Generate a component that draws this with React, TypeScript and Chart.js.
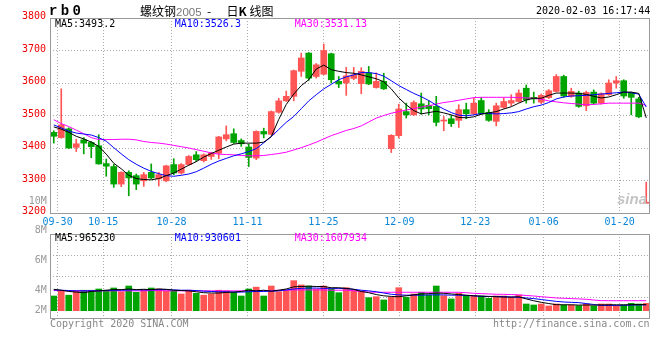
import React, { useEffect, useRef } from 'react';
import { Chart, registerables } from 'chart.js';

Chart.register(...registerables);

// ---------------- data ----------------
const DATES = [
  '09-27', '09-30',
  '10-08', '10-09', '10-10', '10-11', '10-14', '10-15', '10-16', '10-17', '10-18', '10-21', '10-22', '10-23', '10-24', '10-25', '10-28', '10-29', '10-30', '10-31',
  '11-01', '11-04', '11-05', '11-06', '11-07', '11-08', '11-11', '11-12', '11-13', '11-14', '11-15', '11-18', '11-19', '11-20', '11-21', '11-22', '11-25', '11-26', '11-27', '11-28', '11-29',
  '12-02', '12-03', '12-04', '12-05', '12-06', '12-09', '12-10', '12-11', '12-12', '12-13', '12-16', '12-17', '12-18', '12-19', '12-20', '12-23', '12-24', '12-25', '12-26', '12-27', '12-30', '12-31',
  '01-02', '01-03', '01-06', '01-07', '01-08', '01-09', '01-10', '01-13', '01-14', '01-15', '01-16', '01-17', '01-20', '01-21', '01-22', '01-23',
  '02-03',
];

const TICK_DATES = ['09-30', '10-15', '10-28', '11-11', '11-25', '12-09', '12-23', '01-06', '01-20'];

const OPEN = [
  3448, 3432, 3459, 3402, 3425, 3417, 3407, 3352, 3343, 3289,
  3325, 3315, 3299, 3325, 3305, 3299, 3349, 3323, 3349, 3379,
  3361, 3374, 3384, 3428, 3444, 3423, 3403, 3369, 3451, 3442,
  3510, 3545, 3559, 3636, 3692, 3620, 3627, 3690, 3605, 3600,
  3614, 3598, 3631, 3586, 3605, 3398, 3438, 3512, 3502, 3536,
  3531, 3528, 3483, 3490, 3485, 3518, 3505, 3546, 3510, 3482,
  3525, 3538, 3543, 3584, 3556, 3541, 3555, 3574, 3620, 3559,
  3569, 3530, 3572, 3538, 3564, 3600, 3607, 3569, 3551, 3230,
];
const HIGH = [
  3453, 3582, 3462, 3427, 3432, 3420, 3441, 3366, 3350, 3327,
  3330, 3320, 3325, 3351, 3325, 3347, 3367, 3352, 3377, 3389,
  3382, 3387, 3436, 3468, 3459, 3428, 3412, 3453, 3461, 3514,
  3553, 3575, 3640, 3692, 3694, 3660, 3720, 3692, 3620, 3648,
  3648, 3647, 3651, 3631, 3630, 3441, 3535, 3538, 3545, 3569,
  3545, 3559, 3497, 3500, 3533, 3538, 3554, 3555, 3518, 3538,
  3555, 3564, 3579, 3594, 3572, 3566, 3580, 3626, 3624, 3584,
  3575, 3575, 3579, 3570, 3610, 3620, 3610, 3572, 3556, 3295,
];
const LOW = [
  3415, 3430, 3398, 3389, 3382, 3370, 3350, 3313, 3279, 3281,
  3253, 3272, 3282, 3305, 3283, 3296, 3318, 3320, 3347, 3358,
  3357, 3365, 3367, 3422, 3414, 3405, 3343, 3364, 3431, 3440,
  3507, 3543, 3545, 3620, 3608, 3615, 3625, 3600, 3586, 3562,
  3610, 3567, 3595, 3584, 3580, 3386, 3431, 3492, 3500, 3504,
  3502, 3468, 3453, 3466, 3463, 3490, 3503, 3503, 3482, 3468,
  3522, 3530, 3541, 3538, 3538, 3536, 3552, 3572, 3556, 3556,
  3525, 3515, 3535, 3535, 3562, 3584, 3553, 3502, 3493, 3229,
];
const CLOSE = [
  3436, 3471, 3400, 3413, 3415, 3404, 3351, 3344, 3289, 3325,
  3308, 3289, 3318, 3308, 3318, 3345, 3323, 3349, 3374, 3364,
  3379, 3384, 3434, 3441, 3417, 3413, 3371, 3451, 3443, 3512,
  3545, 3559, 3638, 3677, 3615, 3656, 3700, 3610, 3597, 3622,
  3625, 3636, 3597, 3605, 3582, 3439, 3520, 3502, 3540, 3520,
  3521, 3479, 3485, 3475, 3518, 3505, 3538, 3505, 3485, 3530,
  3543, 3546, 3569, 3548, 3551, 3562, 3576, 3620, 3560, 3574,
  3528, 3571, 3538, 3567, 3600, 3607, 3560, 3556, 3496, 3231,
];

const MA5 = [
  3465, 3458, 3448, 3436, 3428, 3418, 3405, 3381, 3353, 3336,
  3316, 3306, 3303, 3302, 3306, 3315, 3323, 3335, 3347, 3358,
  3372, 3383, 3393, 3403, 3412, 3415, 3415, 3415, 3418, 3435,
  3488, 3534, 3566, 3592, 3610, 3643, 3655, 3641, 3636, 3632,
  3630, 3625, 3619, 3613, 3604, 3582, 3554, 3533, 3515, 3505,
  3509, 3513, 3508, 3502, 3494, 3493, 3496, 3504, 3508, 3512,
  3520, 3527, 3538, 3548, 3553, 3553, 3562, 3569, 3569, 3569,
  3568, 3565, 3559, 3554, 3557, 3564, 3572, 3572, 3568, 3493,
];
const MA10 = [
  3471, 3462, 3452, 3446, 3443, 3440, 3432, 3421, 3401, 3382,
  3364, 3350, 3338, 3328, 3321, 3315, 3313, 3316, 3320, 3327,
  3338, 3350, 3360, 3368, 3376, 3382, 3389, 3398, 3416, 3435,
  3457, 3479, 3497, 3521, 3545, 3564, 3582, 3596, 3610, 3619,
  3625, 3632, 3632, 3629, 3621, 3607, 3592, 3580, 3568, 3558,
  3546, 3532, 3520, 3509, 3501, 3499, 3502, 3506, 3506, 3505,
  3506, 3508, 3512, 3520, 3527, 3532, 3540, 3551, 3557, 3560,
  3561, 3562, 3564, 3566, 3568, 3570, 3572, 3570, 3566, 3526,
];
const MA30 = [
  3487, 3475, 3466, 3455, 3444, 3432, 3426, 3426, 3426, 3427,
  3427, 3425, 3420, 3417, 3415, 3412, 3408, 3404, 3400, 3395,
  3390, 3385, 3381, 3380, 3379, 3377, 3376, 3376, 3377, 3380,
  3383, 3387, 3394, 3401, 3409, 3418, 3428, 3438, 3446, 3454,
  3460, 3468, 3480, 3492, 3500, 3507, 3512, 3517, 3521, 3526,
  3530, 3535, 3540, 3543, 3547, 3551, 3555, 3556, 3556, 3556,
  3556, 3556, 3555, 3554, 3553, 3550, 3545, 3542, 3539, 3537,
  3535, 3533, 3534, 3536, 3538, 3538, 3538, 3538, 3538, 3531,
];

// volume, in millions of lots
const VOLUME_M = [
  2.37, 3.2, 2.5, 3.2, 3.3, 3.3, 3.5, 3.3, 3.66, 3.06,
  3.98, 2.96, 3.3, 3.66, 3.5, 3.2, 3.2, 2.7, 3.3, 2.8,
  2.5, 2.7, 3.3, 3.2, 2.96, 2.37, 3.5, 3.8, 2.37, 3.98,
  3.06, 3.3, 4.84, 4.15, 3.98, 3.5, 3.98, 3.5, 2.9, 3.71,
  3.34, 3.18, 2.1, 2.26, 1.73, 2.16, 3.71, 2.16, 2.7, 2.97,
  2.53, 3.98, 2.42, 1.89, 2.8, 2.42, 2.42, 2.37, 2.0, 2.37,
  2.37, 2.16, 2.53, 1.08, 0.92, 1.08, 0.76, 1.08, 0.92, 0.92,
  0.81, 1.08, 0.76, 1.08, 1.08, 0.81, 0.92, 1.19, 1.08, 1.19,
];
const VOL_MA5 = [
  3.45, 3.3, 3.1, 3.0, 2.9, 3.1, 3.2, 3.3, 3.4, 3.4,
  3.5, 3.4, 3.45, 3.4, 3.5, 3.45, 3.3, 3.25, 3.2, 3.05,
  2.9, 2.85, 2.85, 2.95, 3.0, 3.1, 3.3, 3.2, 3.3, 3.15,
  3.3, 3.5, 3.85, 3.9, 3.95, 3.9, 3.9, 3.7, 3.7, 3.6,
  3.45, 3.1, 2.9, 2.6, 2.4, 2.3, 2.25, 2.4, 2.55, 2.7,
  2.75, 2.85, 2.8, 2.7, 2.6, 2.5, 2.4, 2.35, 2.3, 2.25,
  2.2, 2.2, 2.25, 1.9, 1.6, 1.35, 1.15, 0.97, 0.95, 0.95,
  0.9, 0.92, 0.9, 0.93, 0.95, 0.95, 0.93, 0.97, 1.0, 0.965,
];
const VOL_MA10 = [
  3.35, 3.3, 3.25, 3.2, 3.2, 3.2, 3.2, 3.25, 3.3, 3.3,
  3.35, 3.35, 3.35, 3.35, 3.4, 3.4, 3.35, 3.3, 3.3, 3.25,
  3.15, 3.1, 3.05, 3.05, 3.0, 3.0, 3.05, 3.1, 3.1, 3.15,
  3.2, 3.35, 3.5, 3.6, 3.65, 3.65, 3.6, 3.6, 3.6, 3.55,
  3.45, 3.3, 3.2, 3.05, 2.85, 2.65, 2.55, 2.5, 2.5, 2.5,
  2.55, 2.55, 2.55, 2.5, 2.5, 2.45, 2.4, 2.3, 2.3, 2.3,
  2.25, 2.2, 2.15, 2.05, 1.95, 1.8, 1.65, 1.5, 1.4, 1.35,
  1.3, 1.15, 1.0, 0.85, 0.85, 0.85, 0.88, 0.9, 0.93, 0.93,
];
const VOL_MA30 = [
  3.25, 3.25, 3.2, 3.2, 3.2, 3.2, 3.2, 3.2, 3.2, 3.2,
  3.2, 3.2, 3.2, 3.25, 3.25, 3.2, 3.2, 3.2, 3.2, 3.2,
  3.2, 3.2, 3.2, 3.2, 3.2, 3.2, 3.25, 3.25, 3.25, 3.25,
  3.3, 3.3, 3.35, 3.35, 3.35, 3.35, 3.35, 3.3, 3.3, 3.3,
  3.2, 3.1, 3.0, 2.97, 2.97, 2.97, 2.97, 2.97, 2.97, 2.97,
  2.97, 2.97, 2.97, 2.97, 2.97, 2.9, 2.8, 2.75, 2.7, 2.65,
  2.64, 2.6, 2.55, 2.45, 2.37, 2.25, 2.16, 2.05, 2.0, 1.95,
  1.9, 1.84, 1.72, 1.62, 1.61, 1.61, 1.61, 1.61, 1.61, 1.61,
];

const PRICE_MA_TEXT = ['MA5:3493.2', 'MA10:3526.3', 'MA30:3531.13'];
const VOL_MA_TEXT = ['MA5:965230', 'MA10:930601', 'MA30:1607934'];
const VOL_AXIS_TEXT = ['10M', '8M', '6M', '4M', '2M'];
const PRICE_MIN = 3200;
const PRICE_MAX = 3800;
const PRICE_STEP = 100;

// ---------------- styles ----------------
const UP = '#ff5555';
const DOWN = '#00a400';
const GRID = '#aaaaaa';
const FRAME = '#999999';
const MONO = '"DejaVu Sans Mono", monospace';
const CJK = '"Noto Sans CJK SC", sans-serif';
const VOL_MIN = -1.18;
const VOL_MAX = 12.37;

const candleColors = OPEN.map((o, i) => (CLOSE[i] >= o ? UP : DOWN));

const framePlugin = {
  id: 'frame',
  afterDraw(chart: any) {
    const { ctx, chartArea: a } = chart;
    ctx.save();
    ctx.strokeStyle = FRAME;
    ctx.lineWidth = 1;
    ctx.strokeRect(
      Math.round(a.left) + 0.5,
      Math.round(a.top) + 0.5,
      Math.round(a.right - a.left) - 1,
      Math.round(a.bottom - a.top)
    );
    ctx.restore();
  },
};

const lineDs = (data: number[], color: string) => ({
  type: 'line' as const,
  data,
  xAxisID: 'x',
  yAxisID: 'y',
  borderColor: color,
  borderWidth: 1,
  pointRadius: 0,
  tension: 0,
  fill: false,
  order: 0,
});

function T(props: any) {
  const { x, y, children, color = '#000', size = 10, family = MONO, weight = 'normal', align = 'left', style = {} } = props;
  const lh = size + 4;
  const base: any = {
    position: 'absolute',
    top: y - lh / 2,
    lineHeight: lh + 'px',
    fontSize: size,
    fontFamily: family,
    fontWeight: weight,
    color,
    whiteSpace: 'pre',
    ...style,
  };
  if (align === 'right') base.right = 660 - x;
  else base.left = x;
  return <div style={base}>{children}</div>;
}

export default function App() {
  const priceRef = useRef<HTMLCanvasElement>(null);
  const volRef = useRef<HTMLCanvasElement>(null);

  useEffect(() => {
    // category axis carrying the candles (hidden)
    const catScale = {
      type: 'category' as const,
      display: false,
      offset: true,
      grid: { display: false, offset: true },
    };
    // date axis: grid lines + labels at the labelled trading days
    const dateScale = (showLabels: boolean, height: number) => ({
      type: 'linear' as const,
      axis: 'x',
      position: 'bottom' as const,
      min: 0,
      max: DATES.length - 1,
      offset: false,
      bounds: 'data',
      grid: { color: GRID, lineWidth: 1, drawTicks: false, offset: false, display: true },
      border: { display: false, dash: [1, 2] },
      ticks: {
        display: showLabels,
        autoSkip: false,
        maxRotation: 0,
        minRotation: 0,
        padding: 3,
        color: '#0a86d8',
        font: { family: MONO, size: 10 },
        callback: (v: any) => DATES[v] ?? '',
      },
      afterBuildTicks: (s: any) => {
        s.ticks = TICK_DATES.map((d) => ({ value: DATES.indexOf(d) }));
      },
      afterFit: (s: any) => {
        s.height = height;
        s.paddingLeft = 0;
        s.paddingRight = 0;
      },
    });

    const price = new Chart(priceRef.current as HTMLCanvasElement, {
      type: 'bar',
      data: {
        labels: DATES,
        datasets: [
          lineDs(MA5, '#000000'),
          lineDs(MA10, '#0000ff'),
          lineDs(MA30, '#ff00ff'),
          {
            type: 'bar',
            xAxisID: 'x',
            yAxisID: 'y',
            data: OPEN.map((o, i) => [o, CLOSE[i]]),
            backgroundColor: candleColors,
            barThickness: 6,
            minBarLength: 1,
            grouped: false,
            order: 1,
          } as any,
          {
            type: 'bar',
            xAxisID: 'x',
            yAxisID: 'y',
            data: LOW.map((l, i) => [l, HIGH[i]]),
            backgroundColor: candleColors,
            barThickness: 1,
            grouped: false,
            order: 2,
          } as any,
        ],
      },
      options: {
        responsive: false,
        animation: false,
        events: [],
        layout: { padding: { left: 0, right: 10, top: 18, bottom: 0 } },
        plugins: { legend: { display: false }, tooltip: { enabled: false } },
        scales: {
          x: catScale as any,
          xd: dateScale(true, 18) as any,
          y: {
            min: PRICE_MIN,
            max: PRICE_MAX,
            grid: { color: GRID, lineWidth: 1, drawTicks: false },
            border: { display: false, dash: [1, 2] },
            ticks: {
              stepSize: PRICE_STEP,
              color: '#ee0000',
              padding: 4,
              labelOffset: -1.5,
              font: { family: MONO, size: 10 },
              callback: (v: any) => String(v),
            },
            afterFit: (s: any) => {
              s.width = 50;
            },
          } as any,
        },
      },
      plugins: [framePlugin],
    });

    const vol = new Chart(volRef.current as HTMLCanvasElement, {
      type: 'bar',
      data: {
        labels: DATES,
        datasets: [
          lineDs(VOL_MA5, '#000000'),
          lineDs(VOL_MA10, '#0000ff'),
          lineDs(VOL_MA30, '#ff00ff'),
          {
            type: 'bar',
            xAxisID: 'x',
            yAxisID: 'y',
            data: VOLUME_M,
            backgroundColor: candleColors,
            barThickness: 6,
            grouped: false,
            order: 1,
          } as any,
        ],
      },
      options: {
        responsive: false,
        animation: false,
        events: [],
        layout: { padding: { left: 0, right: 10, top: 4, bottom: 6 } },
        plugins: { legend: { display: false }, tooltip: { enabled: false } },
        scales: {
          x: catScale as any,
          xd: dateScale(false, 0) as any,
          y: {
            min: VOL_MIN,
            max: VOL_MAX,
            grid: { color: GRID, lineWidth: 1, drawTicks: false },
            border: { display: false, dash: [1, 2] },
            ticks: { display: false },
            afterBuildTicks: (s: any) => {
              s.ticks = [0, 1, 2, 3, 4].map((k) => ({ value: VOL_MIN + (k * (VOL_MAX - VOL_MIN)) / 4 }));
            },
            afterFit: (s: any) => {
              s.width = 50;
            },
          } as any,
        },
      },
      plugins: [framePlugin],
    });

    return () => {
      price.destroy();
      vol.destroy();
    };
  }, []);

  return (
    <div style={{ position: 'fixed', left: 0, top: 0, width: 660, height: 360, background: '#fff', overflow: 'hidden' }}>
      <canvas ref={priceRef} width={660} height={231} style={{ position: 'absolute', left: 0, top: 0 }} />
      <canvas ref={volRef} width={660} height={94} style={{ position: 'absolute', left: 0, top: 230 }} />

      <T x={49} y={11} size={14} family='"Liberation Mono", monospace' weight="bold" style={{ letterSpacing: 3.4 }}>
        rb0
      </T>
      <T x={140} y={11} size={12} family={CJK}>
        螺纹钢<span style={{ color: '#777', fontFamily: '"Liberation Sans", sans-serif', fontSize: 11.5 }}>2005</span>
      </T>
      <T x={207} y={11} size={12} family={CJK}>-</T>
      <T x={226.5} y={11} size={12} family={CJK}>
        日<b>K</b> 线图
      </T>
      <T x={536} y={11}>2020-02-03 16:17:44</T>

      <T x={55} y={23.5}>{PRICE_MA_TEXT[0]}</T>
      <T x={174.7} y={23.5} color="#0000ff">{PRICE_MA_TEXT[1]}</T>
      <T x={294.7} y={23.5} color="#ff00ff">{PRICE_MA_TEXT[2]}</T>

      <T x={46.7} y={200.7} color="#999" align="right">{VOL_AXIS_TEXT[0]}</T>
      <T x={46.7} y={230} color="#999" align="right">{VOL_AXIS_TEXT[1]}</T>
      <T x={46.7} y={260} color="#999" align="right">{VOL_AXIS_TEXT[2]}</T>
      <T x={46.7} y={290} color="#999" align="right">{VOL_AXIS_TEXT[3]}</T>
      <T x={46.7} y={310} color="#999" align="right">{VOL_AXIS_TEXT[4]}</T>

      <T x={55} y={238.4}>{VOL_MA_TEXT[0]}</T>
      <T x={174.7} y={238.4} color="#0000ff">{VOL_MA_TEXT[1]}</T>
      <T x={294.7} y={238.4} color="#ff00ff">{VOL_MA_TEXT[2]}</T>

      <T x={50} y={324} color="#888">Copyright 2020 SINA.COM</T>
      <T x={649.5} y={324} color="#888" align="right">http://finance.sina.com.cn</T>

      <T x={617} y={198} size={15} family='"Liberation Sans", sans-serif' weight="bold" color="#c4c4c4" style={{ fontStyle: 'italic' }}>
        sina
      </T>
    </div>
  );
}
